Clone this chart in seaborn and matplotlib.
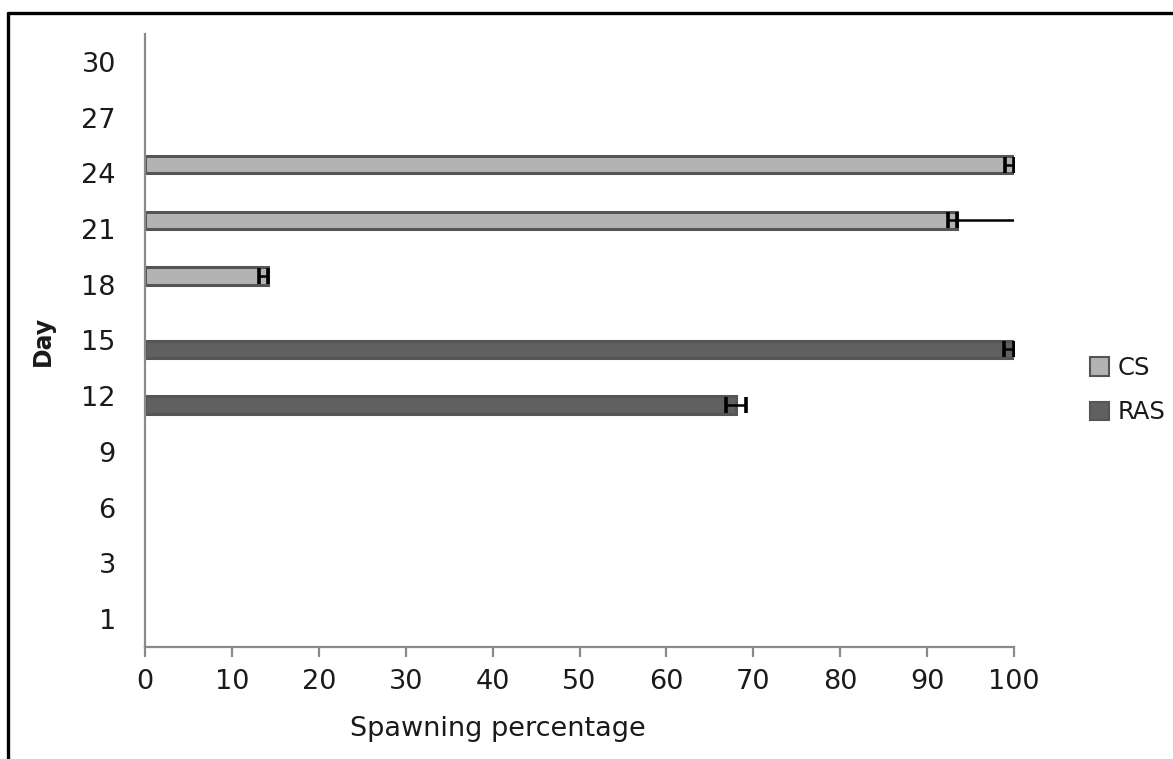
import matplotlib
matplotlib.use("Agg")
import matplotlib.pyplot as plt
from matplotlib.lines import Line2D
from matplotlib.patches import Patch
import seaborn as sns
import pandas as pd
import numpy as np

# ---- data ----
days = ["30", "27", "24", "21", "18", "15", "12", "9", "6", "3", "1"]  # top to bottom
groups = ["CS", "RAS"]
bar_days = ["24", "21", "18", "15", "12"]
bar_groups = ["CS", "CS", "CS", "RAS", "RAS"]
bar_values = [100, 93.4, 14.2, 100, 68]
err_low = [1.0, 1.0, 1.1, 1.1, 1.15]
err_high = [0.0, 0.0, 0.0, 0.0, 1.15]
extra_high = [0.0, 6.6, 0.0, 0.0, 0.0]   # uncapped extension (day 21)
x_ticks = [0, 10, 20, 30, 40, 50, 60, 70, 80, 90, 100]

df = pd.DataFrame({"Day": pd.Categorical(bar_days, categories=days),
                   "Group": pd.Categorical(bar_groups, categories=groups),
                   "Value": bar_values})

sns.set_style("white")
FONT = ["DejaVu Sans"]
plt.rcParams["font.family"] = FONT
FS = 19.5
TXT = "#1a1a1a"

fig = plt.figure(figsize=(11.73, 7.59), dpi=100)
ax = fig.add_axes([145/1173, 1-647/759, (1014-145)/1173, (647-34)/759])

palette = {"CS": "#b3b3b3", "RAS": "#606060"}
sns.barplot(data=df, y="Day", x="Value", hue="Group", order=days, hue_order=groups,
            orient="h", width=0.62, dodge=True, palette=palette, edgecolor="#555555",
            linewidth=2.2, ax=ax, legend=False, errorbar=None)

# make sure every day is on the axis
ax.set_yticks(range(len(days)))
ax.set_yticklabels(days, fontfamily=FONT)
ax.set_ylim(len(days) - 0.5, -0.5)

# error bars placed from the bar patches
bars = [p for p in ax.patches if p.get_width() > 0]
for p in bars:
    yc = p.get_y() + p.get_height() / 2
    cat = int(round(yc))
    grp = "CS" if yc < cat else "RAS"
    day = days[cat]
    for i in range(len(bar_days)):
        if bar_days[i] == day and bar_groups[i] == grp:
            v = p.get_width()
            ax.errorbar([v], [yc], xerr=[[err_low[i]], [err_high[i]]], fmt="none",
                        ecolor="black", elinewidth=1.8, capsize=6, capthick=2.6, zorder=5)
            if extra_high[i] > 0:
                ax.errorbar([v], [yc], xerr=[[0], [extra_high[i]]], fmt="none",
                            ecolor="black", elinewidth=1.8, capsize=0, zorder=5)

ax.set_xlim(0, 100)
ax.set_xticks(x_ticks)
ax.set_xticklabels([str(t) for t in x_ticks], fontfamily=FONT)
for s in ["top", "right"]:
    ax.spines[s].set_visible(False)
for s in ["left", "bottom"]:
    ax.spines[s].set_color("#8a8a8a")
    ax.spines[s].set_linewidth(1.6)
ax.tick_params(axis="x", direction="out", length=7, width=1.6, color="#8a8a8a",
               labelsize=FS, labelcolor=TXT, pad=9, bottom=True)
ax.tick_params(axis="y", length=0, labelsize=FS, labelcolor=TXT, pad=21)

ax.set_xlabel("Spawning percentage", fontsize=FS, color=TXT, fontfamily=FONT)
ax.xaxis.set_label_coords((498-145)/869, -0.112)
ax.set_ylabel("Day", fontsize=17, fontweight="bold", color=TXT, fontfamily=FONT)
ax.yaxis.set_label_coords((55-145)/869, 0.5)

handles = [Patch(facecolor=palette[g], edgecolor="#555555", linewidth=1.5, label=g) for g in groups]
fig.legend(handles=handles, loc="center left", bbox_to_anchor=(1085/1173, 1-390/759),
           frameon=False, prop={"family": FONT, "size": 17.5}, handlelength=0.8,
           handleheight=0.8, handletextpad=0.35, labelspacing=0.85, labelcolor=TXT,
           borderaxespad=0, borderpad=0.2)

# outer frame (left and top)
fig.add_artist(Line2D([8/1173, 8/1173], [0, 1-13/759], transform=fig.transFigure,
                      color="black", linewidth=2.4))
fig.add_artist(Line2D([8/1173, 1], [1-13/759, 1-13/759], transform=fig.transFigure,
                      color="black", linewidth=2.4))

fig.savefig("out.png", dpi=100)
